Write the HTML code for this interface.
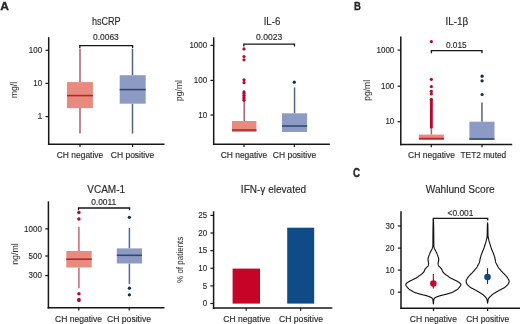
<!DOCTYPE html>
<html><head><meta charset="utf-8"><style>
html,body{margin:0;padding:0;background:#fff;}
svg{display:block;will-change:transform;}
text{font-family:"Liberation Sans", sans-serif;fill:#2a2a2a;stroke:#2a2a2a;stroke-width:0.15px;}
</style></head><body>
<svg width="520" height="324" viewBox="0 0 520 324" shape-rendering="auto">
<rect width="520" height="324" fill="#fff"/>
<text x="0.30" y="10.00" font-size="11.8" text-anchor="start" font-weight="bold" textLength="8.70" lengthAdjust="spacingAndGlyphs" fill="#111" style="stroke:#111;stroke-width:0.3px">A</text>
<text x="354.00" y="10.10" font-size="11.8" text-anchor="start" font-weight="bold" textLength="6.90" lengthAdjust="spacingAndGlyphs" fill="#111" style="stroke:#111;stroke-width:0.3px">B</text>
<text x="353.00" y="176.90" font-size="12.0" text-anchor="start" font-weight="bold" textLength="7.10" lengthAdjust="spacingAndGlyphs" fill="#111" style="stroke:#111;stroke-width:0.3px">C</text>
<text x="106.30" y="25.10" font-size="10.5" text-anchor="middle" textLength="28.80" lengthAdjust="spacingAndGlyphs">hsCRP</text>
<line x1="48.70" y1="37.20" x2="48.70" y2="145.05" stroke="#161616" stroke-width="1.5"/>
<line x1="47.95" y1="144.30" x2="164.50" y2="144.30" stroke="#161616" stroke-width="1.5"/>
<line x1="45.50" y1="50.30" x2="48.70" y2="50.30" stroke="#161616" stroke-width="1.2"/>
<text x="42.20" y="53.05" font-size="8.9" text-anchor="end" textLength="13.35" lengthAdjust="spacingAndGlyphs">100</text>
<line x1="45.50" y1="83.40" x2="48.70" y2="83.40" stroke="#161616" stroke-width="1.2"/>
<text x="42.20" y="86.15" font-size="8.9" text-anchor="end" textLength="8.90" lengthAdjust="spacingAndGlyphs">10</text>
<line x1="45.50" y1="116.60" x2="48.70" y2="116.60" stroke="#161616" stroke-width="1.2"/>
<text x="42.20" y="119.35" font-size="8.9" text-anchor="end" textLength="4.45" lengthAdjust="spacingAndGlyphs">1</text>
<line x1="80.00" y1="144.30" x2="80.00" y2="147.10" stroke="#161616" stroke-width="1.2"/>
<line x1="132.60" y1="144.30" x2="132.60" y2="147.10" stroke="#161616" stroke-width="1.2"/>
<text x="80.00" y="157.60" font-size="8.45" text-anchor="middle" textLength="46.50" lengthAdjust="spacingAndGlyphs">CH negative</text>
<text x="132.50" y="157.60" font-size="8.45" text-anchor="middle" textLength="43.50" lengthAdjust="spacingAndGlyphs">CH positive</text>
<text x="17.10" y="90.00" font-size="9.8" text-anchor="middle" textLength="16.20" lengthAdjust="spacingAndGlyphs" transform="rotate(-90 17.10 90.00)" style="stroke:none">mg/l</text>
<line x1="80.00" y1="48.60" x2="80.00" y2="82.10" stroke="#a9606f" stroke-width="1.5"/>
<line x1="80.00" y1="108.10" x2="80.00" y2="133.60" stroke="#a9606f" stroke-width="1.5"/>
<rect x="67.00" y="82.10" width="25.90" height="26.00" fill="#e98a7e"/>
<line x1="67.00" y1="95.60" x2="92.90" y2="95.60" stroke="#b3262e" stroke-width="1.6"/>
<line x1="132.50" y1="48.60" x2="132.50" y2="75.20" stroke="#50637f" stroke-width="1.5"/>
<line x1="132.50" y1="103.70" x2="132.50" y2="133.60" stroke="#50637f" stroke-width="1.5"/>
<rect x="119.70" y="75.20" width="26.00" height="28.50" fill="#8d9bc4"/>
<line x1="119.70" y1="89.60" x2="145.70" y2="89.60" stroke="#2f4a72" stroke-width="1.6"/>
<path d="M79.80 48.00V45.70H132.60V48.00" fill="none" stroke="#161616" stroke-width="1.3"/>
<text x="105.90" y="40.40" font-size="8.4" text-anchor="middle" textLength="25.90" lengthAdjust="spacingAndGlyphs">0.0063</text>
<text x="272.00" y="24.90" font-size="10.1" text-anchor="middle" textLength="16.60" lengthAdjust="spacingAndGlyphs">IL-6</text>
<line x1="213.70" y1="37.30" x2="213.70" y2="145.05" stroke="#161616" stroke-width="1.5"/>
<line x1="212.95" y1="144.30" x2="329.80" y2="144.30" stroke="#161616" stroke-width="1.5"/>
<line x1="210.50" y1="45.40" x2="213.70" y2="45.40" stroke="#161616" stroke-width="1.2"/>
<text x="207.20" y="48.15" font-size="8.9" text-anchor="end" textLength="17.80" lengthAdjust="spacingAndGlyphs">1000</text>
<line x1="210.50" y1="80.40" x2="213.70" y2="80.40" stroke="#161616" stroke-width="1.2"/>
<text x="207.20" y="83.15" font-size="8.9" text-anchor="end" textLength="13.35" lengthAdjust="spacingAndGlyphs">100</text>
<line x1="210.50" y1="115.00" x2="213.70" y2="115.00" stroke="#161616" stroke-width="1.2"/>
<text x="207.20" y="117.75" font-size="8.9" text-anchor="end" textLength="8.90" lengthAdjust="spacingAndGlyphs">10</text>
<line x1="244.00" y1="144.30" x2="244.00" y2="147.10" stroke="#161616" stroke-width="1.2"/>
<line x1="294.40" y1="144.30" x2="294.40" y2="147.10" stroke="#161616" stroke-width="1.2"/>
<text x="243.90" y="157.60" font-size="8.45" text-anchor="middle" textLength="46.50" lengthAdjust="spacingAndGlyphs">CH negative</text>
<text x="294.50" y="157.60" font-size="8.45" text-anchor="middle" textLength="43.50" lengthAdjust="spacingAndGlyphs">CH positive</text>
<text x="182.10" y="90.50" font-size="9.8" text-anchor="middle" textLength="20.80" lengthAdjust="spacingAndGlyphs" transform="rotate(-90 182.10 90.50)" style="stroke:none">pg/ml</text>
<line x1="244.20" y1="101.00" x2="244.20" y2="121.00" stroke="#a9606f" stroke-width="1.5"/>
<rect x="232.00" y="121.00" width="24.40" height="11.00" fill="#e98a7e"/>
<line x1="232.00" y1="130.00" x2="256.40" y2="130.00" stroke="#b3262e" stroke-width="1.6"/>
<circle cx="244.00" cy="48.90" r="1.6" fill="#b40a30"/>
<circle cx="244.00" cy="56.50" r="1.6" fill="#b40a30"/>
<circle cx="244.00" cy="59.80" r="1.6" fill="#b40a30"/>
<circle cx="244.00" cy="79.80" r="1.6" fill="#b40a30"/>
<circle cx="244.00" cy="82.70" r="1.6" fill="#b40a30"/>
<circle cx="244.00" cy="91.90" r="1.6" fill="#b40a30"/>
<circle cx="244.00" cy="93.60" r="1.6" fill="#b40a30"/>
<circle cx="244.00" cy="95.30" r="1.6" fill="#b40a30"/>
<circle cx="244.00" cy="97.00" r="1.6" fill="#b40a30"/>
<circle cx="244.00" cy="98.70" r="1.6" fill="#b40a30"/>
<circle cx="244.00" cy="100.20" r="1.6" fill="#b40a30"/>
<line x1="294.55" y1="87.40" x2="294.55" y2="113.30" stroke="#50637f" stroke-width="1.5"/>
<rect x="282.00" y="113.30" width="25.10" height="18.70" fill="#8d9bc4"/>
<line x1="282.00" y1="126.00" x2="307.10" y2="126.00" stroke="#2f4a72" stroke-width="1.6"/>
<circle cx="294.30" cy="82.20" r="1.6" fill="#0f2d52"/>
<path d="M243.80 46.50V44.20H294.50V46.50" fill="none" stroke="#161616" stroke-width="1.3"/>
<text x="269.20" y="40.00" font-size="8.5" text-anchor="middle" textLength="26.20" lengthAdjust="spacingAndGlyphs">0.0023</text>
<text x="456.80" y="25.30" font-size="10.1" text-anchor="middle" textLength="22.70" lengthAdjust="spacingAndGlyphs">IL-1β</text>
<line x1="400.80" y1="36.50" x2="400.80" y2="145.15" stroke="#161616" stroke-width="1.5"/>
<line x1="400.05" y1="144.40" x2="512.20" y2="144.40" stroke="#161616" stroke-width="1.5"/>
<line x1="397.60" y1="50.10" x2="400.80" y2="50.10" stroke="#161616" stroke-width="1.2"/>
<text x="394.30" y="52.85" font-size="8.9" text-anchor="end" textLength="17.80" lengthAdjust="spacingAndGlyphs">1000</text>
<line x1="397.60" y1="86.20" x2="400.80" y2="86.20" stroke="#161616" stroke-width="1.2"/>
<text x="394.30" y="88.95" font-size="8.9" text-anchor="end" textLength="13.35" lengthAdjust="spacingAndGlyphs">100</text>
<line x1="397.60" y1="121.70" x2="400.80" y2="121.70" stroke="#161616" stroke-width="1.2"/>
<text x="394.30" y="124.45" font-size="8.9" text-anchor="end" textLength="8.90" lengthAdjust="spacingAndGlyphs">10</text>
<line x1="431.30" y1="144.40" x2="431.30" y2="147.20" stroke="#161616" stroke-width="1.2"/>
<line x1="482.00" y1="144.40" x2="482.00" y2="147.20" stroke="#161616" stroke-width="1.2"/>
<text x="431.50" y="158.00" font-size="8.45" text-anchor="middle" textLength="46.80" lengthAdjust="spacingAndGlyphs">CH negative</text>
<text x="483.40" y="158.00" font-size="8.45" text-anchor="middle" textLength="45.70" lengthAdjust="spacingAndGlyphs">TET2 muted</text>
<text x="369.80" y="90.30" font-size="9.8" text-anchor="middle" textLength="20.80" lengthAdjust="spacingAndGlyphs" transform="rotate(-90 369.80 90.30)" style="stroke:none">pg/ml</text>
<line x1="431.40" y1="128.00" x2="431.40" y2="134.60" stroke="#a9606f" stroke-width="1.5"/>
<rect x="418.90" y="134.60" width="25.00" height="5.40" fill="#e98a7e"/>
<line x1="418.90" y1="138.60" x2="443.90" y2="138.60" stroke="#b3262e" stroke-width="1.6"/>
<line x1="431.35" y1="99.50" x2="431.35" y2="128.30" stroke="#b40a30" stroke-width="2.9"/>
<circle cx="431.35" cy="41.60" r="1.6" fill="#b40a30"/>
<circle cx="431.35" cy="79.30" r="1.6" fill="#b40a30"/>
<circle cx="431.35" cy="86.60" r="1.6" fill="#b40a30"/>
<circle cx="431.35" cy="91.30" r="1.6" fill="#b40a30"/>
<circle cx="431.35" cy="93.90" r="1.6" fill="#b40a30"/>
<circle cx="431.35" cy="99.30" r="1.6" fill="#b40a30"/>
<line x1="481.95" y1="102.50" x2="481.95" y2="121.70" stroke="#50637f" stroke-width="1.5"/>
<rect x="469.40" y="121.70" width="25.10" height="18.00" fill="#8d9bc4"/>
<line x1="469.40" y1="139.00" x2="494.50" y2="139.00" stroke="#2f4a72" stroke-width="1.6"/>
<circle cx="482.10" cy="76.20" r="1.6" fill="#0f2d52"/>
<circle cx="482.10" cy="80.80" r="1.6" fill="#0f2d52"/>
<circle cx="482.10" cy="94.50" r="1.6" fill="#0f2d52"/>
<path d="M431.40 53.20V50.60H482.00V53.20" fill="none" stroke="#161616" stroke-width="1.3"/>
<text x="456.30" y="47.80" font-size="8.4" text-anchor="middle" textLength="20.80" lengthAdjust="spacingAndGlyphs">0.015</text>
<text x="106.20" y="193.00" font-size="10.0" text-anchor="middle" textLength="37.90" lengthAdjust="spacingAndGlyphs">VCAM-1</text>
<line x1="48.40" y1="201.30" x2="48.40" y2="308.55" stroke="#161616" stroke-width="1.5"/>
<line x1="47.65" y1="307.80" x2="164.50" y2="307.80" stroke="#161616" stroke-width="1.5"/>
<line x1="45.20" y1="228.90" x2="48.40" y2="228.90" stroke="#161616" stroke-width="1.2"/>
<text x="41.90" y="231.65" font-size="8.9" text-anchor="end" textLength="17.80" lengthAdjust="spacingAndGlyphs">1000</text>
<line x1="45.20" y1="256.00" x2="48.40" y2="256.00" stroke="#161616" stroke-width="1.2"/>
<text x="41.90" y="258.75" font-size="8.9" text-anchor="end" textLength="13.35" lengthAdjust="spacingAndGlyphs">500</text>
<line x1="45.20" y1="275.60" x2="48.40" y2="275.60" stroke="#161616" stroke-width="1.2"/>
<text x="41.90" y="278.35" font-size="8.9" text-anchor="end" textLength="13.35" lengthAdjust="spacingAndGlyphs">300</text>
<line x1="78.75" y1="307.80" x2="78.75" y2="310.60" stroke="#161616" stroke-width="1.2"/>
<line x1="129.30" y1="307.80" x2="129.30" y2="310.60" stroke="#161616" stroke-width="1.2"/>
<text x="78.50" y="321.80" font-size="8.45" text-anchor="middle" textLength="47.00" lengthAdjust="spacingAndGlyphs">CH negative</text>
<text x="129.00" y="321.80" font-size="8.45" text-anchor="middle" textLength="44.00" lengthAdjust="spacingAndGlyphs">CH positive</text>
<text x="17.60" y="254.00" font-size="9.8" text-anchor="middle" textLength="21.60" lengthAdjust="spacingAndGlyphs" transform="rotate(-90 17.60 254.00)" style="stroke:none">ng/ml</text>
<line x1="78.90" y1="226.70" x2="78.90" y2="251.00" stroke="#c06878" stroke-width="1.5"/>
<line x1="78.90" y1="267.50" x2="78.90" y2="288.20" stroke="#c06878" stroke-width="1.5"/>
<rect x="66.30" y="251.00" width="25.40" height="16.50" fill="#e98a7e"/>
<line x1="66.30" y1="259.20" x2="91.70" y2="259.20" stroke="#b3262e" stroke-width="1.6"/>
<circle cx="78.90" cy="212.60" r="1.75" fill="#b40a30"/>
<circle cx="78.90" cy="219.00" r="1.75" fill="#b40a30"/>
<circle cx="78.90" cy="293.80" r="1.75" fill="#b40a30"/>
<circle cx="78.90" cy="299.60" r="1.75" fill="#b40a30"/>
<circle cx="78.90" cy="300.60" r="1.75" fill="#b40a30"/>
<line x1="129.40" y1="228.00" x2="129.40" y2="248.40" stroke="#52699a" stroke-width="1.5"/>
<line x1="129.40" y1="263.50" x2="129.40" y2="284.20" stroke="#52699a" stroke-width="1.5"/>
<rect x="116.80" y="248.40" width="25.20" height="15.10" fill="#8d9bc4"/>
<line x1="116.80" y1="255.30" x2="142.00" y2="255.30" stroke="#2f4a72" stroke-width="1.6"/>
<circle cx="129.40" cy="217.30" r="1.65" fill="#0f2d52"/>
<circle cx="129.40" cy="288.20" r="1.65" fill="#0f2d52"/>
<circle cx="129.40" cy="294.80" r="1.65" fill="#0f2d52"/>
<path d="M78.50 210.30V208.00H129.60V210.30" fill="none" stroke="#161616" stroke-width="1.3"/>
<text x="103.70" y="205.00" font-size="8.4" text-anchor="middle" textLength="25.00" lengthAdjust="spacingAndGlyphs">0.0011</text>
<text x="273.50" y="193.00" font-size="10.0" text-anchor="middle" textLength="65.30" lengthAdjust="spacingAndGlyphs">IFN-γ elevated</text>
<line x1="213.60" y1="211.30" x2="213.60" y2="308.75" stroke="#161616" stroke-width="1.5"/>
<line x1="212.85" y1="308.00" x2="331.50" y2="308.00" stroke="#161616" stroke-width="1.5"/>
<line x1="210.40" y1="215.40" x2="213.60" y2="215.40" stroke="#161616" stroke-width="1.2"/>
<text x="207.10" y="218.15" font-size="8.9" text-anchor="end" textLength="8.90" lengthAdjust="spacingAndGlyphs">25</text>
<line x1="210.40" y1="233.02" x2="213.60" y2="233.02" stroke="#161616" stroke-width="1.2"/>
<text x="207.10" y="235.77" font-size="8.9" text-anchor="end" textLength="8.90" lengthAdjust="spacingAndGlyphs">20</text>
<line x1="210.40" y1="250.64" x2="213.60" y2="250.64" stroke="#161616" stroke-width="1.2"/>
<text x="207.10" y="253.39" font-size="8.9" text-anchor="end" textLength="8.90" lengthAdjust="spacingAndGlyphs">15</text>
<line x1="210.40" y1="268.26" x2="213.60" y2="268.26" stroke="#161616" stroke-width="1.2"/>
<text x="207.10" y="271.01" font-size="8.9" text-anchor="end" textLength="8.90" lengthAdjust="spacingAndGlyphs">10</text>
<line x1="210.40" y1="285.88" x2="213.60" y2="285.88" stroke="#161616" stroke-width="1.2"/>
<text x="207.10" y="288.63" font-size="8.9" text-anchor="end" textLength="4.45" lengthAdjust="spacingAndGlyphs">5</text>
<line x1="210.40" y1="303.50" x2="213.60" y2="303.50" stroke="#161616" stroke-width="1.2"/>
<text x="207.10" y="306.25" font-size="8.9" text-anchor="end" textLength="4.45" lengthAdjust="spacingAndGlyphs">0</text>
<line x1="246.20" y1="308.00" x2="246.20" y2="310.80" stroke="#161616" stroke-width="1.2"/>
<line x1="300.60" y1="308.00" x2="300.60" y2="310.80" stroke="#161616" stroke-width="1.2"/>
<line x1="331.00" y1="308.00" x2="332.50" y2="308.00" stroke="#161616" stroke-width="1.0"/>
<text x="246.80" y="321.80" font-size="8.45" text-anchor="middle" textLength="47.10" lengthAdjust="spacingAndGlyphs">CH negative</text>
<text x="301.00" y="321.80" font-size="8.45" text-anchor="middle" textLength="43.90" lengthAdjust="spacingAndGlyphs">CH positive</text>
<text x="182.80" y="259.80" font-size="9.6" text-anchor="middle" textLength="46.20" lengthAdjust="spacingAndGlyphs" transform="rotate(-90 182.80 259.80)" style="stroke:none">% of patients</text>
<rect x="232.60" y="268.60" width="27.40" height="35.00" fill="#c60427"/>
<rect x="287.20" y="227.70" width="27.00" height="75.90" fill="#0f4b87"/>
<text x="460.20" y="192.90" font-size="10.0" text-anchor="middle" textLength="68.90" lengthAdjust="spacingAndGlyphs">Wahlund Score</text>
<line x1="401.00" y1="211.20" x2="401.00" y2="309.05" stroke="#161616" stroke-width="1.5"/>
<line x1="400.25" y1="308.30" x2="520.00" y2="308.30" stroke="#161616" stroke-width="1.5"/>
<line x1="397.80" y1="226.00" x2="401.00" y2="226.00" stroke="#161616" stroke-width="1.2"/>
<text x="394.50" y="228.75" font-size="8.9" text-anchor="end" textLength="8.90" lengthAdjust="spacingAndGlyphs">30</text>
<line x1="397.80" y1="248.10" x2="401.00" y2="248.10" stroke="#161616" stroke-width="1.2"/>
<text x="394.50" y="250.85" font-size="8.9" text-anchor="end" textLength="8.90" lengthAdjust="spacingAndGlyphs">20</text>
<line x1="397.80" y1="270.10" x2="401.00" y2="270.10" stroke="#161616" stroke-width="1.2"/>
<text x="394.50" y="272.85" font-size="8.9" text-anchor="end" textLength="8.90" lengthAdjust="spacingAndGlyphs">10</text>
<line x1="397.80" y1="292.20" x2="401.00" y2="292.20" stroke="#161616" stroke-width="1.2"/>
<text x="394.50" y="294.95" font-size="8.9" text-anchor="end" textLength="4.45" lengthAdjust="spacingAndGlyphs">0</text>
<line x1="433.50" y1="308.30" x2="433.50" y2="311.10" stroke="#161616" stroke-width="1.2"/>
<line x1="487.60" y1="308.30" x2="487.60" y2="311.10" stroke="#161616" stroke-width="1.2"/>
<text x="433.35" y="321.80" font-size="8.45" text-anchor="middle" textLength="47.10" lengthAdjust="spacingAndGlyphs">CH negative</text>
<text x="487.70" y="321.80" font-size="8.45" text-anchor="middle" textLength="43.00" lengthAdjust="spacingAndGlyphs">CH positive</text>
<polygon points="433.35,218.80 433.36,219.03 433.38,219.30 433.40,219.60 433.42,219.93 433.44,220.30 433.47,220.71 433.49,221.16 433.51,221.64 433.54,222.17 433.56,222.74 433.58,223.35 433.60,224.00 433.62,224.72 433.63,225.51 433.65,226.37 433.66,227.27 433.67,228.22 433.69,229.20 433.70,230.19 433.71,231.19 433.72,232.18 433.73,233.16 433.74,234.10 433.75,235.00 433.76,235.89 433.76,236.82 433.77,237.76 433.77,238.71 433.77,239.65 433.78,240.57 433.78,241.46 433.78,242.30 433.78,243.09 433.79,243.81 433.79,244.45 433.80,245.00 433.81,245.44 433.81,245.78 433.81,246.03 433.81,246.21 433.82,246.34 433.82,246.42 433.83,246.48 433.84,246.53 433.86,246.58 433.88,246.65 433.91,246.75 433.95,246.90 434.00,247.08 434.05,247.26 434.11,247.45 434.17,247.64 434.24,247.83 434.32,248.03 434.39,248.23 434.48,248.44 434.57,248.65 434.66,248.86 434.75,249.08 434.85,249.30 434.95,249.53 435.07,249.76 435.19,250.01 435.31,250.25 435.44,250.50 435.58,250.76 435.71,251.01 435.84,251.27 435.98,251.53 436.10,251.79 436.23,252.04 436.35,252.30 436.47,252.56 436.58,252.81 436.70,253.07 436.81,253.33 436.93,253.59 437.04,253.86 437.15,254.12 437.25,254.38 437.36,254.64 437.46,254.89 437.56,255.15 437.65,255.40 437.74,255.65 437.83,255.90 437.92,256.16 438.01,256.41 438.09,256.66 438.18,256.91 438.25,257.15 438.32,257.39 438.39,257.63 438.45,257.86 438.50,258.08 438.55,258.30 438.59,258.51 438.62,258.71 438.64,258.90 438.66,259.09 438.67,259.28 438.68,259.46 438.68,259.63 438.68,259.81 438.68,259.98 438.67,260.15 438.66,260.33 438.65,260.50 438.63,260.67 438.61,260.85 438.58,261.02 438.54,261.19 438.50,261.36 438.46,261.53 438.42,261.69 438.38,261.86 438.34,262.02 438.31,262.18 438.27,262.34 438.25,262.50 438.23,262.66 438.21,262.81 438.19,262.97 438.17,263.12 438.15,263.27 438.14,263.42 438.13,263.57 438.12,263.71 438.12,263.86 438.12,264.01 438.13,264.15 438.15,264.30 438.17,264.45 438.20,264.59 438.23,264.73 438.26,264.88 438.30,265.02 438.34,265.16 438.39,265.30 438.45,265.44 438.51,265.58 438.58,265.72 438.66,265.86 438.75,266.00 438.85,266.14 438.96,266.27 439.08,266.40 439.22,266.53 439.36,266.66 439.50,266.79 439.65,266.92 439.79,267.06 439.94,267.19 440.08,267.32 440.22,267.46 440.35,267.60 440.48,267.74 440.60,267.89 440.73,268.03 440.85,268.18 440.98,268.33 441.10,268.48 441.22,268.63 441.34,268.79 441.45,268.94 441.55,269.09 441.65,269.25 441.75,269.40 441.84,269.56 441.92,269.72 441.99,269.88 442.06,270.05 442.13,270.22 442.19,270.39 442.25,270.55 442.31,270.71 442.36,270.87 442.42,271.02 442.49,271.17 442.55,271.30 442.61,271.42 442.67,271.53 442.72,271.64 442.77,271.73 442.82,271.82 442.88,271.91 442.93,271.99 442.99,272.08 443.07,272.17 443.15,272.27 443.24,272.38 443.35,272.50 443.47,272.63 443.61,272.77 443.76,272.91 443.91,273.06 444.08,273.21 444.25,273.37 444.43,273.53 444.61,273.69 444.79,273.84 444.98,274.00 445.17,274.15 445.35,274.30 445.54,274.44 445.73,274.59 445.92,274.73 446.12,274.87 446.32,275.01 446.52,275.15 446.72,275.29 446.93,275.43 447.13,275.57 447.34,275.71 447.55,275.86 447.75,276.00 447.95,276.15 448.16,276.30 448.36,276.45 448.56,276.60 448.76,276.76 448.97,276.91 449.17,277.07 449.38,277.22 449.59,277.37 449.81,277.52 450.03,277.66 450.25,277.80 450.48,277.94 450.71,278.07 450.94,278.20 451.18,278.32 451.41,278.45 451.66,278.57 451.90,278.69 452.15,278.81 452.39,278.93 452.64,279.05 452.90,279.18 453.15,279.30 453.41,279.42 453.67,279.55 453.94,279.67 454.21,279.79 454.48,279.91 454.76,280.04 455.03,280.16 455.30,280.29 455.57,280.41 455.84,280.54 456.10,280.67 456.35,280.80 456.60,280.93 456.85,281.07 457.10,281.21 457.35,281.35 457.60,281.49 457.84,281.63 458.08,281.77 458.31,281.92 458.54,282.06 458.75,282.21 458.96,282.35 459.15,282.50 459.34,282.65 459.52,282.80 459.70,282.95 459.88,283.10 460.05,283.25 460.21,283.40 460.35,283.55 460.49,283.70 460.61,283.85 460.71,284.00 460.79,284.15 460.85,284.30 460.89,284.44 460.92,284.58 460.92,284.70 460.92,284.83 460.89,284.95 460.86,285.08 460.80,285.21 460.74,285.35 460.66,285.49 460.57,285.65 460.47,285.82 460.35,286.00 460.22,286.20 460.06,286.43 459.89,286.67 459.70,286.92 459.49,287.18 459.28,287.45 459.06,287.72 458.84,287.98 458.61,288.23 458.38,288.47 458.16,288.70 457.95,288.90 457.74,289.08 457.53,289.25 457.32,289.41 457.11,289.56 456.90,289.69 456.69,289.82 456.47,289.95 456.25,290.08 456.03,290.20 455.81,290.33 455.58,290.46 455.35,290.60 455.11,290.74 454.87,290.89 454.63,291.04 454.38,291.19 454.13,291.34 453.88,291.49 453.62,291.64 453.36,291.79 453.11,291.92 452.85,292.06 452.60,292.18 452.35,292.30 452.10,292.41 451.85,292.51 451.60,292.60 451.35,292.69 451.10,292.77 450.85,292.85 450.60,292.93 450.35,293.00 450.10,293.07 449.85,293.15 449.60,293.22 449.35,293.30 449.10,293.38 448.85,293.46 448.60,293.53 448.36,293.61 448.11,293.69 447.86,293.76 447.61,293.84 447.36,293.91 447.11,293.98 446.86,294.06 446.61,294.13 446.35,294.20 446.09,294.27 445.83,294.34 445.56,294.41 445.29,294.48 445.02,294.55 444.75,294.61 444.48,294.68 444.21,294.74 443.94,294.81 443.67,294.87 443.41,294.94 443.15,295.00 442.89,295.06 442.64,295.12 442.38,295.18 442.13,295.23 441.88,295.28 441.62,295.34 441.38,295.39 441.13,295.45 440.88,295.51 440.64,295.57 440.39,295.63 440.15,295.70 439.91,295.77 439.66,295.85 439.42,295.93 439.18,296.01 438.93,296.10 438.69,296.19 438.46,296.28 438.22,296.36 438.00,296.45 437.77,296.54 437.56,296.62 437.35,296.70 437.15,296.78 436.95,296.85 436.75,296.93 436.56,297.00 436.37,297.07 436.19,297.14 436.02,297.21 435.85,297.28 435.69,297.36 435.53,297.43 435.39,297.51 435.25,297.60 435.12,297.69 435.00,297.78 434.89,297.88 434.78,297.98 434.69,298.08 434.59,298.18 434.51,298.28 434.43,298.39 434.35,298.49 434.28,298.60 434.21,298.70 434.15,298.80 434.09,298.89 434.04,298.97 434.00,299.03 433.96,299.10 433.93,299.16 433.91,299.22 433.88,299.30 433.86,299.39 433.83,299.50 433.81,299.64 433.78,299.80 433.75,300.00 433.72,300.25 433.68,300.55 433.64,300.90 433.60,301.27 433.56,301.67 433.53,302.07 433.49,302.48 433.45,302.86 433.42,303.22 433.39,303.53 433.37,303.80 433.35,304.00 433.35,304.00 433.33,303.80 433.31,303.53 433.28,303.22 433.25,302.86 433.21,302.48 433.18,302.07 433.14,301.67 433.10,301.27 433.06,300.90 433.02,300.55 432.98,300.25 432.95,300.00 432.92,299.80 432.89,299.64 432.87,299.50 432.84,299.39 432.82,299.30 432.79,299.22 432.77,299.16 432.74,299.10 432.70,299.03 432.66,298.97 432.61,298.89 432.55,298.80 432.49,298.70 432.42,298.60 432.35,298.49 432.27,298.39 432.19,298.28 432.11,298.18 432.01,298.08 431.92,297.98 431.81,297.88 431.70,297.78 431.58,297.69 431.45,297.60 431.31,297.51 431.17,297.43 431.01,297.36 430.85,297.28 430.68,297.21 430.51,297.14 430.33,297.07 430.14,297.00 429.95,296.93 429.75,296.85 429.55,296.78 429.35,296.70 429.14,296.62 428.93,296.54 428.70,296.45 428.48,296.36 428.24,296.28 428.01,296.19 427.77,296.10 427.52,296.01 427.28,295.93 427.04,295.85 426.79,295.77 426.55,295.70 426.31,295.63 426.06,295.57 425.82,295.51 425.57,295.45 425.32,295.39 425.08,295.34 424.82,295.28 424.57,295.23 424.32,295.18 424.06,295.12 423.81,295.06 423.55,295.00 423.29,294.94 423.03,294.87 422.76,294.81 422.49,294.74 422.22,294.68 421.95,294.61 421.68,294.55 421.41,294.48 421.14,294.41 420.87,294.34 420.61,294.27 420.35,294.20 420.09,294.13 419.84,294.06 419.59,293.98 419.34,293.91 419.09,293.84 418.84,293.76 418.59,293.69 418.34,293.61 418.10,293.53 417.85,293.46 417.60,293.38 417.35,293.30 417.10,293.22 416.85,293.15 416.60,293.07 416.35,293.00 416.10,292.93 415.85,292.85 415.60,292.77 415.35,292.69 415.10,292.60 414.85,292.51 414.60,292.41 414.35,292.30 414.10,292.18 413.85,292.06 413.59,291.92 413.34,291.79 413.08,291.64 412.83,291.49 412.57,291.34 412.32,291.19 412.07,291.04 411.83,290.89 411.59,290.74 411.35,290.60 411.12,290.46 410.89,290.33 410.67,290.20 410.45,290.08 410.23,289.95 410.01,289.82 409.80,289.69 409.59,289.56 409.38,289.41 409.17,289.25 408.96,289.08 408.75,288.90 408.54,288.70 408.32,288.47 408.09,288.23 407.86,287.98 407.64,287.72 407.42,287.45 407.21,287.18 407.00,286.92 406.81,286.67 406.64,286.43 406.48,286.20 406.35,286.00 406.23,285.82 406.13,285.65 406.04,285.49 405.96,285.35 405.90,285.21 405.84,285.08 405.81,284.95 405.78,284.83 405.78,284.70 405.78,284.58 405.81,284.44 405.85,284.30 405.91,284.15 405.99,284.00 406.09,283.85 406.21,283.70 406.35,283.55 406.49,283.40 406.65,283.25 406.82,283.10 407.00,282.95 407.18,282.80 407.36,282.65 407.55,282.50 407.74,282.35 407.95,282.21 408.16,282.06 408.39,281.92 408.62,281.77 408.86,281.63 409.10,281.49 409.35,281.35 409.60,281.21 409.85,281.07 410.10,280.93 410.35,280.80 410.60,280.67 410.86,280.54 411.13,280.41 411.40,280.29 411.67,280.16 411.94,280.04 412.22,279.91 412.49,279.79 412.76,279.67 413.03,279.55 413.29,279.42 413.55,279.30 413.80,279.18 414.06,279.05 414.31,278.93 414.55,278.81 414.80,278.69 415.04,278.57 415.29,278.45 415.52,278.32 415.76,278.20 415.99,278.07 416.22,277.94 416.45,277.80 416.67,277.66 416.89,277.52 417.11,277.37 417.32,277.22 417.53,277.07 417.73,276.91 417.94,276.76 418.14,276.60 418.34,276.45 418.54,276.30 418.75,276.15 418.95,276.00 419.15,275.86 419.36,275.71 419.57,275.57 419.77,275.43 419.98,275.29 420.18,275.15 420.38,275.01 420.58,274.87 420.78,274.73 420.97,274.59 421.16,274.44 421.35,274.30 421.53,274.15 421.72,274.00 421.91,273.84 422.09,273.69 422.27,273.53 422.45,273.37 422.62,273.21 422.79,273.06 422.94,272.91 423.09,272.77 423.23,272.63 423.35,272.50 423.46,272.38 423.55,272.27 423.63,272.17 423.71,272.08 423.77,271.99 423.83,271.91 423.88,271.82 423.93,271.73 423.98,271.64 424.03,271.53 424.09,271.42 424.15,271.30 424.21,271.17 424.28,271.02 424.34,270.87 424.39,270.71 424.45,270.55 424.51,270.39 424.57,270.22 424.64,270.05 424.71,269.88 424.78,269.72 424.86,269.56 424.95,269.40 425.05,269.25 425.15,269.09 425.25,268.94 425.36,268.79 425.48,268.63 425.60,268.48 425.72,268.33 425.85,268.18 425.97,268.03 426.10,267.89 426.22,267.74 426.35,267.60 426.48,267.46 426.62,267.32 426.76,267.19 426.91,267.06 427.05,266.92 427.20,266.79 427.34,266.66 427.48,266.53 427.62,266.40 427.74,266.27 427.85,266.14 427.95,266.00 428.04,265.86 428.12,265.72 428.19,265.58 428.25,265.44 428.31,265.30 428.36,265.16 428.40,265.02 428.44,264.88 428.47,264.73 428.50,264.59 428.53,264.45 428.55,264.30 428.57,264.15 428.58,264.01 428.58,263.86 428.58,263.71 428.57,263.57 428.56,263.42 428.55,263.27 428.53,263.12 428.51,262.97 428.49,262.81 428.47,262.66 428.45,262.50 428.43,262.34 428.39,262.18 428.36,262.02 428.32,261.86 428.28,261.69 428.24,261.53 428.20,261.36 428.16,261.19 428.12,261.02 428.09,260.85 428.07,260.67 428.05,260.50 428.04,260.33 428.03,260.15 428.02,259.98 428.02,259.81 428.02,259.63 428.02,259.46 428.03,259.28 428.04,259.09 428.06,258.90 428.08,258.71 428.11,258.51 428.15,258.30 428.20,258.08 428.25,257.86 428.31,257.63 428.38,257.39 428.45,257.15 428.53,256.91 428.61,256.66 428.69,256.41 428.78,256.16 428.87,255.90 428.96,255.65 429.05,255.40 429.14,255.15 429.24,254.89 429.34,254.64 429.45,254.38 429.55,254.12 429.66,253.86 429.77,253.59 429.89,253.33 430.00,253.07 430.12,252.81 430.23,252.56 430.35,252.30 430.47,252.04 430.60,251.79 430.73,251.53 430.86,251.27 430.99,251.01 431.12,250.76 431.26,250.50 431.39,250.25 431.51,250.01 431.63,249.76 431.75,249.53 431.85,249.30 431.95,249.08 432.04,248.86 432.13,248.65 432.22,248.44 432.31,248.23 432.38,248.03 432.46,247.83 432.53,247.64 432.59,247.45 432.65,247.26 432.70,247.08 432.75,246.90 432.79,246.75 432.82,246.65 432.84,246.58 432.86,246.53 432.87,246.48 432.88,246.42 432.88,246.34 432.89,246.21 432.89,246.03 432.89,245.78 432.89,245.44 432.90,245.00 432.91,244.45 432.91,243.81 432.92,243.09 432.92,242.30 432.92,241.46 432.93,240.57 432.93,239.65 432.93,238.71 432.93,237.76 432.94,236.82 432.94,235.89 432.95,235.00 432.96,234.10 432.97,233.16 432.98,232.18 432.99,231.19 433.00,230.19 433.01,229.20 433.03,228.22 433.04,227.27 433.05,226.37 433.07,225.51 433.08,224.72 433.10,224.00 433.12,223.35 433.14,222.74 433.16,222.17 433.19,221.64 433.21,221.16 433.23,220.71 433.26,220.30 433.28,219.93 433.30,219.60 433.32,219.30 433.34,219.03 433.35,218.80" fill="none" stroke="#111" stroke-width="1.15" stroke-linejoin="round"/>
<polygon points="487.60,222.80 487.61,223.00 487.63,223.24 487.65,223.51 487.67,223.82 487.69,224.16 487.72,224.53 487.74,224.91 487.77,225.31 487.79,225.73 487.81,226.15 487.83,226.57 487.85,227.00 487.86,227.44 487.87,227.92 487.88,228.43 487.89,228.96 487.90,229.50 487.91,230.04 487.91,230.59 487.92,231.12 487.93,231.63 487.93,232.12 487.94,232.58 487.95,233.00 487.96,233.38 487.97,233.75 487.98,234.09 487.99,234.41 488.00,234.71 488.01,235.00 488.02,235.27 488.03,235.54 488.05,235.79 488.06,236.03 488.08,236.27 488.10,236.50 488.12,236.71 488.14,236.90 488.16,237.07 488.18,237.23 488.21,237.37 488.23,237.51 488.26,237.64 488.29,237.79 488.32,237.94 488.36,238.10 488.40,238.29 488.45,238.50 488.50,238.73 488.56,238.98 488.62,239.24 488.68,239.51 488.75,239.80 488.82,240.09 488.90,240.38 488.97,240.69 489.05,240.99 489.13,241.29 489.22,241.60 489.30,241.90 489.39,242.20 489.48,242.51 489.57,242.82 489.67,243.13 489.77,243.45 489.87,243.77 489.98,244.09 490.08,244.41 490.18,244.73 490.29,245.06 490.40,245.38 490.50,245.70 490.60,246.02 490.71,246.35 490.81,246.67 490.91,247.00 491.02,247.32 491.12,247.65 491.23,247.98 491.34,248.30 491.45,248.63 491.56,248.95 491.68,249.28 491.80,249.60 491.92,249.92 492.06,250.25 492.19,250.57 492.33,250.90 492.47,251.23 492.61,251.55 492.75,251.87 492.89,252.19 493.03,252.50 493.16,252.81 493.28,253.11 493.40,253.40 493.51,253.68 493.62,253.96 493.72,254.22 493.82,254.49 493.91,254.74 494.01,254.99 494.10,255.24 494.18,255.49 494.26,255.74 494.35,255.99 494.42,256.24 494.50,256.50 494.57,256.76 494.64,257.02 494.70,257.27 494.76,257.53 494.82,257.79 494.88,258.05 494.93,258.31 494.98,258.57 495.03,258.82 495.09,259.08 495.14,259.34 495.20,259.60 495.26,259.86 495.31,260.12 495.36,260.39 495.41,260.66 495.46,260.93 495.51,261.19 495.57,261.46 495.62,261.72 495.68,261.97 495.75,262.22 495.82,262.47 495.90,262.70 495.99,262.92 496.08,263.14 496.19,263.35 496.29,263.56 496.40,263.75 496.52,263.95 496.64,264.14 496.75,264.33 496.87,264.52 496.98,264.71 497.09,264.91 497.20,265.10 497.30,265.29 497.39,265.48 497.48,265.67 497.57,265.86 497.66,266.05 497.74,266.23 497.83,266.42 497.93,266.61 498.03,266.80 498.14,266.99 498.27,267.19 498.40,267.40 498.55,267.61 498.71,267.83 498.88,268.05 499.05,268.27 499.24,268.50 499.43,268.72 499.62,268.95 499.81,269.19 500.01,269.42 500.21,269.65 500.41,269.87 500.60,270.10 500.79,270.33 500.99,270.56 501.19,270.79 501.39,271.02 501.60,271.25 501.80,271.48 502.00,271.71 502.21,271.94 502.41,272.16 502.61,272.38 502.81,272.59 503.00,272.80 503.19,273.00 503.38,273.20 503.57,273.39 503.76,273.57 503.95,273.75 504.13,273.93 504.31,274.11 504.50,274.29 504.68,274.46 504.85,274.64 505.03,274.82 505.20,275.00 505.37,275.18 505.54,275.37 505.71,275.55 505.88,275.74 506.04,275.93 506.21,276.11 506.37,276.30 506.52,276.48 506.67,276.66 506.82,276.84 506.96,277.02 507.10,277.20 507.23,277.37 507.36,277.55 507.48,277.72 507.60,277.89 507.71,278.05 507.83,278.22 507.93,278.38 508.03,278.55 508.13,278.71 508.23,278.87 508.31,279.04 508.40,279.20 508.48,279.36 508.56,279.52 508.64,279.68 508.72,279.84 508.79,279.99 508.86,280.15 508.92,280.31 508.97,280.46 509.02,280.62 509.05,280.78 509.08,280.94 509.10,281.10 509.11,281.26 509.11,281.43 509.10,281.60 509.08,281.76 509.06,281.93 509.03,282.10 508.99,282.27 508.94,282.44 508.89,282.60 508.83,282.77 508.77,282.94 508.70,283.10 508.63,283.26 508.55,283.42 508.46,283.58 508.37,283.74 508.27,283.89 508.16,284.05 508.05,284.21 507.93,284.36 507.81,284.52 507.68,284.68 507.54,284.84 507.40,285.00 507.25,285.17 507.08,285.34 506.89,285.52 506.70,285.70 506.50,285.88 506.30,286.06 506.10,286.24 505.90,286.41 505.71,286.57 505.53,286.73 505.35,286.87 505.20,287.00 505.07,287.11 504.95,287.20 504.86,287.28 504.77,287.35 504.70,287.41 504.62,287.47 504.54,287.52 504.45,287.58 504.34,287.64 504.22,287.72 504.08,287.80 503.90,287.90 503.69,288.01 503.46,288.14 503.21,288.27 502.94,288.41 502.65,288.55 502.36,288.70 502.06,288.85 501.75,289.00 501.45,289.16 501.16,289.31 500.87,289.46 500.60,289.60 500.34,289.74 500.07,289.89 499.80,290.04 499.53,290.19 499.26,290.34 499.00,290.49 498.74,290.64 498.49,290.79 498.25,290.92 498.02,291.06 497.80,291.18 497.60,291.30 497.42,291.40 497.26,291.49 497.12,291.57 497.00,291.64 496.88,291.71 496.77,291.78 496.66,291.84 496.54,291.91 496.41,291.99 496.26,292.08 496.09,292.18 495.90,292.30 495.68,292.44 495.43,292.59 495.15,292.76 494.86,292.94 494.56,293.12 494.26,293.31 493.95,293.50 493.65,293.70 493.36,293.88 493.08,294.07 492.83,294.24 492.60,294.40 492.40,294.55 492.21,294.69 492.04,294.83 491.89,294.96 491.74,295.09 491.60,295.22 491.47,295.34 491.34,295.47 491.21,295.60 491.08,295.73 490.94,295.86 490.80,296.00 490.65,296.14 490.50,296.29 490.35,296.44 490.20,296.59 490.04,296.74 489.89,296.89 489.75,297.05 489.60,297.20 489.47,297.35 489.34,297.50 489.21,297.65 489.10,297.80 488.99,297.95 488.90,298.09 488.80,298.24 488.72,298.39 488.64,298.53 488.56,298.68 488.49,298.82 488.42,298.96 488.36,299.10 488.30,299.24 488.25,299.37 488.20,299.50 488.16,299.62 488.12,299.74 488.09,299.85 488.07,299.96 488.05,300.06 488.04,300.16 488.03,300.27 488.02,300.38 488.00,300.49 487.99,300.62 487.97,300.75 487.95,300.90 487.92,301.07 487.89,301.26 487.86,301.47 487.83,301.69 487.79,301.91 487.76,302.14 487.73,302.36 487.69,302.57 487.67,302.77 487.64,302.94 487.62,303.09 487.60,303.20 487.60,303.20 487.58,303.09 487.56,302.94 487.53,302.77 487.51,302.57 487.47,302.36 487.44,302.14 487.41,301.91 487.37,301.69 487.34,301.47 487.31,301.26 487.28,301.07 487.25,300.90 487.23,300.75 487.21,300.62 487.20,300.49 487.18,300.38 487.17,300.27 487.16,300.16 487.15,300.06 487.13,299.96 487.11,299.85 487.08,299.74 487.04,299.62 487.00,299.50 486.95,299.37 486.90,299.24 486.84,299.10 486.78,298.96 486.71,298.82 486.64,298.68 486.56,298.53 486.48,298.39 486.40,298.24 486.30,298.09 486.21,297.95 486.10,297.80 485.99,297.65 485.86,297.50 485.73,297.35 485.60,297.20 485.45,297.05 485.31,296.89 485.16,296.74 485.00,296.59 484.85,296.44 484.70,296.29 484.55,296.14 484.40,296.00 484.26,295.86 484.12,295.73 483.99,295.60 483.86,295.47 483.73,295.34 483.60,295.22 483.46,295.09 483.31,294.96 483.16,294.83 482.99,294.69 482.80,294.55 482.60,294.40 482.37,294.24 482.12,294.07 481.84,293.88 481.55,293.70 481.25,293.50 480.94,293.31 480.64,293.12 480.34,292.94 480.05,292.76 479.77,292.59 479.52,292.44 479.30,292.30 479.11,292.18 478.94,292.08 478.79,291.99 478.66,291.91 478.54,291.84 478.43,291.78 478.32,291.71 478.20,291.64 478.08,291.57 477.94,291.49 477.78,291.40 477.60,291.30 477.40,291.18 477.18,291.06 476.95,290.92 476.71,290.79 476.46,290.64 476.20,290.49 475.94,290.34 475.67,290.19 475.40,290.04 475.13,289.89 474.86,289.74 474.60,289.60 474.33,289.46 474.04,289.31 473.75,289.16 473.45,289.00 473.14,288.85 472.84,288.70 472.55,288.55 472.26,288.41 471.99,288.27 471.74,288.14 471.51,288.01 471.30,287.90 471.12,287.80 470.98,287.72 470.86,287.64 470.75,287.58 470.66,287.52 470.58,287.47 470.50,287.41 470.43,287.35 470.34,287.28 470.25,287.20 470.13,287.11 470.00,287.00 469.85,286.87 469.68,286.73 469.49,286.57 469.30,286.41 469.10,286.24 468.90,286.06 468.70,285.88 468.50,285.70 468.31,285.52 468.12,285.34 467.95,285.17 467.80,285.00 467.66,284.84 467.52,284.68 467.39,284.52 467.27,284.36 467.15,284.21 467.04,284.05 466.93,283.89 466.83,283.74 466.74,283.58 466.65,283.42 466.57,283.26 466.50,283.10 466.43,282.94 466.37,282.77 466.31,282.60 466.26,282.44 466.21,282.27 466.18,282.10 466.14,281.93 466.12,281.76 466.10,281.60 466.09,281.43 466.09,281.26 466.10,281.10 466.12,280.94 466.15,280.78 466.18,280.62 466.23,280.46 466.28,280.31 466.34,280.15 466.41,279.99 466.48,279.84 466.56,279.68 466.64,279.52 466.72,279.36 466.80,279.20 466.89,279.04 466.98,278.87 467.07,278.71 467.17,278.55 467.27,278.38 467.38,278.22 467.49,278.05 467.60,277.89 467.72,277.72 467.84,277.55 467.97,277.37 468.10,277.20 468.24,277.02 468.38,276.84 468.53,276.66 468.68,276.48 468.83,276.30 468.99,276.11 469.16,275.93 469.32,275.74 469.49,275.55 469.66,275.37 469.83,275.18 470.00,275.00 470.17,274.82 470.35,274.64 470.52,274.46 470.70,274.29 470.89,274.11 471.07,273.93 471.25,273.75 471.44,273.57 471.63,273.39 471.82,273.20 472.01,273.00 472.20,272.80 472.39,272.59 472.59,272.38 472.79,272.16 472.99,271.94 473.20,271.71 473.40,271.48 473.60,271.25 473.81,271.02 474.01,270.79 474.21,270.56 474.41,270.33 474.60,270.10 474.79,269.87 474.99,269.65 475.19,269.42 475.39,269.19 475.58,268.95 475.78,268.72 475.96,268.50 476.15,268.27 476.33,268.05 476.49,267.83 476.65,267.61 476.80,267.40 476.93,267.19 477.06,266.99 477.17,266.80 477.27,266.61 477.37,266.42 477.46,266.23 477.54,266.05 477.63,265.86 477.72,265.67 477.81,265.48 477.90,265.29 478.00,265.10 478.11,264.91 478.22,264.71 478.33,264.52 478.45,264.33 478.56,264.14 478.68,263.95 478.80,263.75 478.91,263.56 479.01,263.35 479.12,263.14 479.21,262.92 479.30,262.70 479.38,262.47 479.45,262.22 479.52,261.97 479.58,261.72 479.63,261.46 479.69,261.19 479.74,260.93 479.79,260.66 479.84,260.39 479.89,260.12 479.94,259.86 480.00,259.60 480.06,259.34 480.11,259.08 480.17,258.82 480.22,258.57 480.27,258.31 480.33,258.05 480.38,257.79 480.44,257.53 480.50,257.27 480.56,257.02 480.63,256.76 480.70,256.50 480.78,256.24 480.85,255.99 480.94,255.74 481.02,255.49 481.10,255.24 481.19,254.99 481.29,254.74 481.38,254.49 481.48,254.22 481.58,253.96 481.69,253.68 481.80,253.40 481.92,253.11 482.04,252.81 482.17,252.50 482.31,252.19 482.45,251.87 482.59,251.55 482.73,251.23 482.87,250.90 483.01,250.57 483.14,250.25 483.28,249.92 483.40,249.60 483.52,249.28 483.64,248.95 483.75,248.63 483.86,248.30 483.97,247.98 484.08,247.65 484.18,247.32 484.29,247.00 484.39,246.67 484.49,246.35 484.60,246.02 484.70,245.70 484.80,245.38 484.91,245.06 485.02,244.73 485.12,244.41 485.22,244.09 485.33,243.77 485.43,243.45 485.53,243.13 485.63,242.82 485.72,242.51 485.81,242.20 485.90,241.90 485.98,241.60 486.07,241.29 486.15,240.99 486.23,240.69 486.30,240.38 486.38,240.09 486.45,239.80 486.52,239.51 486.58,239.24 486.64,238.98 486.70,238.73 486.75,238.50 486.80,238.29 486.84,238.10 486.88,237.94 486.91,237.79 486.94,237.64 486.97,237.51 486.99,237.37 487.02,237.23 487.04,237.07 487.06,236.90 487.08,236.71 487.10,236.50 487.12,236.27 487.14,236.03 487.15,235.79 487.17,235.54 487.18,235.27 487.19,235.00 487.20,234.71 487.21,234.41 487.22,234.09 487.23,233.75 487.24,233.38 487.25,233.00 487.26,232.58 487.27,232.12 487.28,231.63 487.28,231.12 487.29,230.59 487.29,230.04 487.30,229.50 487.31,228.96 487.32,228.43 487.33,227.92 487.34,227.44 487.35,227.00 487.37,226.57 487.39,226.15 487.41,225.73 487.43,225.31 487.46,224.91 487.48,224.53 487.51,224.16 487.53,223.82 487.55,223.51 487.57,223.24 487.59,223.00 487.60,222.80" fill="none" stroke="#111" stroke-width="1.15" stroke-linejoin="round"/>
<line x1="433.35" y1="274.10" x2="433.35" y2="288.50" stroke="#a40c2c" stroke-width="1.15"/>
<circle cx="433.35" cy="283.60" r="3.3" fill="#c40a2d"/>
<line x1="487.50" y1="268.20" x2="487.50" y2="283.90" stroke="#14325a" stroke-width="1.15"/>
<circle cx="487.50" cy="277.10" r="3.3" fill="#15457a"/>
<path d="M433.40 220.40V218.40H487.70V220.40" fill="none" stroke="#161616" stroke-width="1.3"/>
<text x="460.50" y="216.00" font-size="8.4" text-anchor="middle" textLength="26.00" lengthAdjust="spacingAndGlyphs">&lt;0.001</text>
</svg>
</body></html>
